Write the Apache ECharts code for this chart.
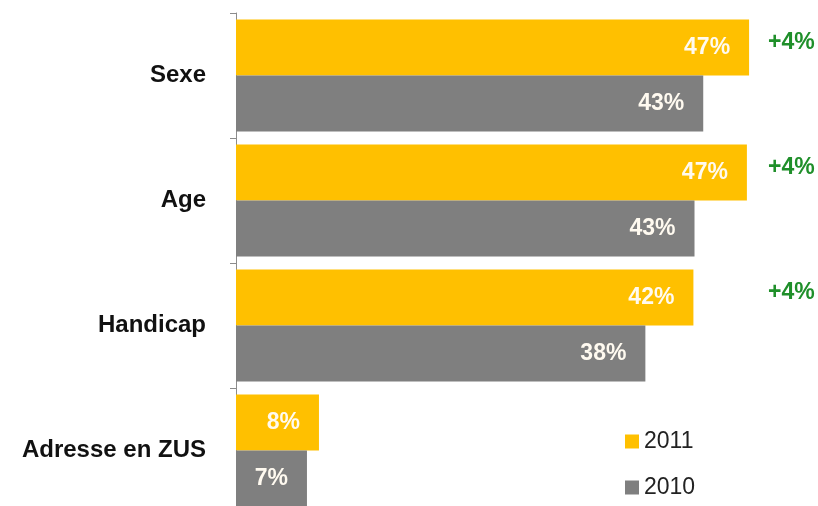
<!DOCTYPE html>
<html>
<head>
<meta charset="utf-8">
<script src="https://cdn.jsdelivr.net/npm/echarts@6/dist/echarts.min.js"></script>
<style>html,body{margin:0;padding:0;background:#fff}#c{width:818px;height:506px}</style>
</head>
<body>
<div id="c"></div>
<script>
const categories = ['Sexe', 'Age', 'Handicap', 'Adresse en ZUS'];
const values2011 = [47.0, 46.8, 41.9, 7.6];
const values2010 = [42.8, 42.0, 37.5, 6.5];
const labels2011 = ['47%', '47%', '42%', '8%'];
const labels2010 = ['43%', '43%', '38%', '7%'];
const diffLabels = ['+4%', '+4%', '+4%', ''];
const seriesNames = ['2011', '2010'];

const FONT = 'Liberation Sans, Arial, sans-serif';
const chart = echarts.init(document.getElementById('c'));
const valueLabel = (labels) => ({
  show: true,
  position: 'insideRight',
  distance: 19,
  color: '#fffaf0',
  fontFamily: FONT,
  fontWeight: 'bold',
  fontSize: 23,
  formatter: (p) => labels[p.dataIndex]
});
const legendBase = {
  left: 620,
  itemWidth: 14,
  itemHeight: 14,
  icon: 'rect',
  textStyle: { color: '#222222', fontSize: 23, fontFamily: FONT }
};
chart.setOption({
  animation: false,
  backgroundColor: '#ffffff',
  grid: { left: 236, right: 58, top: 13, height: 500, outerBoundsMode: 'none', containLabel: false },
  xAxis: { type: 'value', min: 0, max: 48, show: false },
  yAxis: [
    {
      type: 'category',
      data: categories,
      inverse: true,
      axisLine: { show: true, lineStyle: { color: '#8c8c8c', width: 1 } },
      axisTick: { show: true, length: 6, lineStyle: { color: '#8c8c8c' } },
      axisLabel: {
        margin: 30,
        color: '#111111',
        fontFamily: FONT,
        fontWeight: 'bold',
        fontSize: 24
      },
      splitLine: { show: false }
    },
    {
      type: 'category',
      data: diffLabels,
      inverse: true,
      position: 'right',
      axisLine: { show: false },
      axisTick: { show: false },
      axisLabel: {
        margin: 8,
        color: '#1f8f2a',
        fontFamily: FONT,
        fontWeight: 'bold',
        fontSize: 23,
        lineHeight: 22,
        formatter: (v) => v ? v + '\n \n \n ' : ''
      }
    }
  ],
  legend: [
    Object.assign({ top: 425, data: [seriesNames[0]] }, legendBase),
    Object.assign({ top: 471, data: [seriesNames[1]] }, legendBase)
  ],
  series: [
    {
      name: seriesNames[0],
      type: 'bar',
      data: values2011,
      barWidth: 56,
      barGap: '0%',
      itemStyle: { color: '#FFC000' },
      label: valueLabel(labels2011)
    },
    {
      name: seriesNames[1],
      type: 'bar',
      data: values2010,
      barWidth: 56,
      barGap: '0%',
      itemStyle: { color: '#7F7F7F' },
      label: valueLabel(labels2010)
    }
  ]
});
</script>
</body>
</html>
